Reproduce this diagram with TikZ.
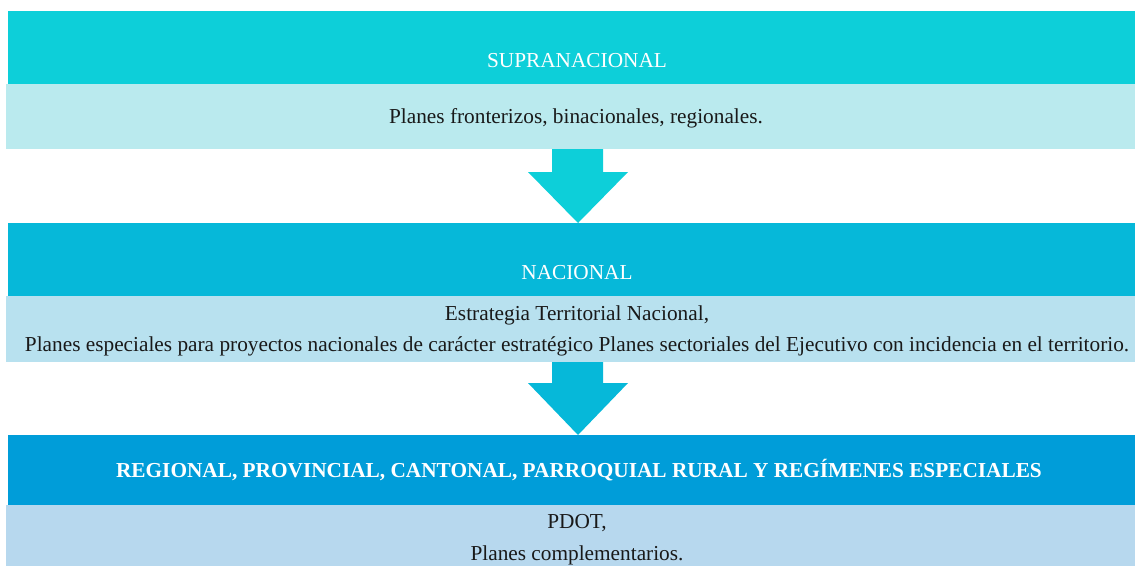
\documentclass[tikz,border=0pt]{standalone}
\usepackage{fontspec}
\setmainfont{Liberation Serif}
\definecolor{hdA}{RGB}{13,207,217}
\definecolor{bdA}{RGB}{186,234,238}
\definecolor{hdB}{RGB}{6,184,217}
\definecolor{bdB}{RGB}{184,225,239}
\definecolor{hdC}{RGB}{0,157,217}
\definecolor{bdC}{RGB}{183,216,238}
\begin{document}
\begin{tikzpicture}[x=1pt,y=-1pt,
  hdtext/.style={anchor=base,text=white,font=\fontsize{21.3}{24}\selectfont,inner sep=0pt},
  bdtext/.style={anchor=base,text=black!90,font=\fontsize{21.3}{24}\selectfont,inner sep=0pt}]
\useasboundingbox (0,0) rectangle (1135,566);
% bands
\fill[hdA] (8,11) rectangle (1135,83.5);
\fill[bdA] (6,84) rectangle (1135,149);
\fill[hdB] (8,223) rectangle (1135,295.5);
\fill[bdB] (6,296) rectangle (1135,362);
\fill[hdC] (8,435) rectangle (1135,504.5);
\fill[bdC] (6,505) rectangle (1135,566);
% arrows
\fill[hdA] (552,149) -- (603,149) -- (603,172) -- (628,172) -- (578,223) -- (528,172) -- (552,172) -- cycle;
\fill[hdB] (552,362) -- (603,362) -- (603,383) -- (628,383) -- (578,435) -- (528,383) -- (552,383) -- cycle;
% texts
\node[hdtext] (t1) at (577,67) {SUPRANACIONAL};
\node[bdtext] (b1) at (576,123) {Planes fronterizos, binacionales, regionales.};
\node[hdtext] (t2) at (577,279) {NACIONAL};
\node[bdtext] (b2a) at (577,320) {Estrategia Territorial Nacional,};
\node[bdtext] (b2b) at (577,351) {Planes especiales para proyectos nacionales de carácter estratégico Planes sectoriales del Ejecutivo con incidencia en el territorio.};
\node[hdtext,font=\fontsize{21.3}{24}\selectfont\bfseries] (t3) at (579,477) {REGIONAL, PROVINCIAL, CANTONAL, PARROQUIAL RURAL Y REGÍMENES ESPECIALES};
\node[bdtext] (b3a) at (577,528) {PDOT,};
\node[bdtext] (b3b) at (577,560) {Planes complementarios.};
\end{tikzpicture}
\end{document}
